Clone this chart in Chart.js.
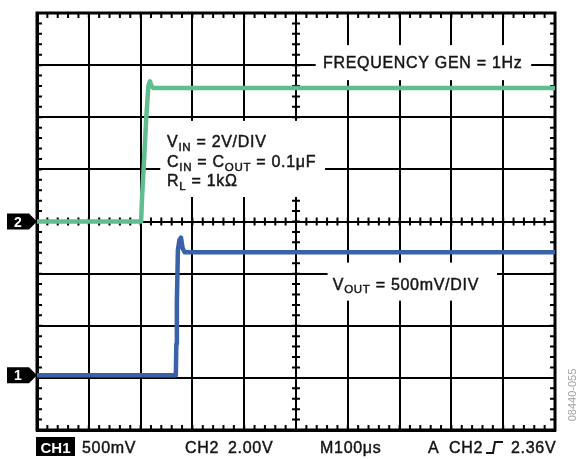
<!DOCTYPE html>
<html>
<head>
<meta charset="utf-8">
<script src="https://cdn.jsdelivr.net/npm/chart.js@4.4.1/dist/chart.umd.min.js"></script>
<style>
  html, body { margin: 0; padding: 0; background: #fff; }
  #wrap { width: 579px; height: 459px; position: relative; }
</style>
</head>
<body>
<div id="wrap"><canvas id="scope"></canvas></div>
<script>
// time in µs, 100µs/div over 10 divisions
const ch2Time  = [0, 201, 203, 206, 211, 215, 218, 221, 225, 1000];
const ch2Volts = [0, 0, 1.0, 2.1, 4.0, 5.2, 5.38, 5.2, 5.12, 5.12];
const ch1Time  = [0, 268, 269, 270, 272, 275, 278, 281, 285, 1000];
const ch1Volts = [0, 0, 0.3, 0.7, 1.2, 1.3, 1.32, 1.22, 1.18, 1.18];

// channel settings
const ch1VoltsPerDiv = 0.5;
const ch2VoltsPerDiv = 2.0;
const ch1Offset = -2.95;   // ground marker, divisions from centre
const ch2Offset = 0;

// readout along the bottom
const ch1Readout = ['CH1', '500mV'];
const ch2Readout = ['CH2', '2.00V'];
const timeReadout = 'M100μs';
const trigReadout = ['A', 'CH2', '2.36V'];
const figCode = '08440-055';

const GREEN = '#5fbd8f';
const BLUE = '#3a62a9';
const INK = '#151515';
const FONT = '"Liberation Sans", Arial, sans-serif';

const toDiv = (volts, vpd, off) => volts.map(v => off + v / vpd);

// fill plus a hairline stroke so the lettering reads a little heavier
function inkText(ctx, t, x, y) {
    ctx.fillText(t, x, y);
    ctx.strokeText(t, x, y);
}

function richText(ctx, x, y, parts, size) {
    for (const p of parts) {
        const s = p.sub ? size * 0.72 : size;
        ctx.font = s + 'px ' + FONT;
        inkText(ctx, p.t, x, y + (p.sub ? 3.5 : 0));
        x += ctx.measureText(p.t).width;
    }
}

const scopeDecor = {
    id: 'scopeDecor',
    beforeDatasetsDraw(chart) {
        const { ctx, chartArea: a, scales: { x, y } } = chart;
        const px = v => x.getPixelForValue(v);
        const py = v => y.getPixelForValue(v);
        ctx.save();
        ctx.strokeStyle = '#000';
        ctx.lineWidth = 2;
        ctx.beginPath();
        // minor ticks, 5 per division
        for (let t = 0; t <= 1000; t += 20) {
            const X = px(t);
            ctx.moveTo(X, a.top); ctx.lineTo(X, a.top + 5);
            ctx.moveTo(X, a.bottom); ctx.lineTo(X, a.bottom - 5);
            ctx.moveTo(X, py(0) - 4); ctx.lineTo(X, py(0) + 4);
        }
        for (let d = -4; d <= 4.001; d += 0.2) {
            const Y = py(d);
            ctx.moveTo(a.left, Y); ctx.lineTo(a.left + 5, Y);
            ctx.moveTo(a.right, Y); ctx.lineTo(a.right - 5, Y);
            ctx.moveTo(px(500) - 4, Y); ctx.lineTo(px(500) + 4, Y);
        }
        ctx.stroke();

        // label backgrounds knock out the graticule
        ctx.fillStyle = '#fff';
        ctx.fillRect(px(538), py(3) - 20, px(954) - px(538), 35);
        ctx.fillRect(px(238), py(1.93), px(556) - px(238), py(0.47) - py(1.93));
        ctx.fillRect(px(561), py(-1) - 11, px(888) - px(561), 38);

        ctx.lineWidth = 3;
        ctx.strokeRect(a.left, a.top, a.right - a.left, a.bottom - a.top);
        ctx.restore();
    },
    afterDatasetsDraw(chart) {
        const { ctx, chartArea: a, scales: { x, y } } = chart;
        const px = v => x.getPixelForValue(v);
        const py = v => y.getPixelForValue(v);
        ctx.save();
        ctx.fillStyle = INK;
        ctx.strokeStyle = INK;
        ctx.lineWidth = 0.45;
        ctx.textBaseline = 'alphabetic';
        ctx.letterSpacing = '0.7px';

        richText(ctx, px(552), py(3) + 3, [{ t: 'FREQUENCY GEN = 1Hz' }], 16);
        const y1 = py(1);
        richText(ctx, px(251), y1 - 22, [{ t: 'V' }, { t: 'IN', sub: true }, { t: ' = 2V/DIV' }], 16);
        richText(ctx, px(251), y1 - 2, [{ t: 'C' }, { t: 'IN', sub: true }, { t: ' = C' }, { t: 'OUT', sub: true }, { t: ' = 0.1μF' }], 16);
        richText(ctx, px(251), y1 + 17, [{ t: 'R' }, { t: 'L', sub: true }, { t: ' = 1kΩ' }], 16);
        richText(ctx, px(571), py(-1) + 16, [{ t: 'V' }, { t: 'OUT', sub: true }, { t: ' = 500mV/DIV' }], 16);

        // channel ground markers
        [[ch2Offset, '2'], [ch1Offset, '1']].forEach(([off, lbl]) => {
            const Y = py(off);
            ctx.fillStyle = '#000';
            ctx.beginPath();
            ctx.moveTo(7, Y - 8); ctx.lineTo(29, Y - 8); ctx.lineTo(a.left, Y);
            ctx.lineTo(29, Y + 8); ctx.lineTo(7, Y + 8); ctx.closePath();
            ctx.fill();
            ctx.fillStyle = '#fff';
            ctx.font = 'bold 14px ' + FONT;
            ctx.letterSpacing = '0px';
            ctx.textAlign = 'center';
            ctx.fillText(lbl, 18, Y + 5);
            ctx.textAlign = 'left';
        });

        // bottom readout
        const by = 453;
        ctx.fillStyle = '#000';
        ctx.fillRect(36, 437, 39, 19);
        ctx.fillStyle = '#fff';
        ctx.font = 'bold 15px ' + FONT;
        ctx.textAlign = 'center';
        ctx.fillText(ch1Readout[0], 55.5, by);
        ctx.textAlign = 'left';
        ctx.fillStyle = INK;
        ctx.letterSpacing = '0.7px';
        ctx.font = '16px ' + FONT;
        inkText(ctx, ch1Readout[1], 82, by);
        inkText(ctx, ch2Readout[0], 185, by);
        inkText(ctx, ch2Readout[1], 228, by);
        inkText(ctx, timeReadout, 320, by);
        inkText(ctx, trigReadout[0], 428, by);
        inkText(ctx, trigReadout[1], 449, by);
        inkText(ctx, trigReadout[2], 511, by);

        // rising-edge trigger glyph
        ctx.lineWidth = 2;
        ctx.beginPath();
        ctx.moveTo(486, by); ctx.lineTo(493, by);
        ctx.lineTo(495, by - 11); ctx.lineTo(503, by - 11);
        ctx.stroke();

        // figure code, rotated
        ctx.save();
        ctx.translate(576, 395);
        ctx.rotate(-Math.PI / 2);
        ctx.fillStyle = '#a3a3a3';
        ctx.font = '11px ' + FONT;
        ctx.letterSpacing = '0px';
        ctx.textAlign = 'center';
        ctx.fillText(figCode, 0, 0);
        ctx.restore();
        ctx.restore();
    }
};

const gridOpts = { color: '#000', lineWidth: 2, drawTicks: false };
const borderOpts = { display: true, color: '#000', width: 3 };

new Chart(document.getElementById('scope').getContext('2d'), {
    type: 'line',
    data: {
        datasets: [
            {
                label: 'CH2',
                data: ch2Time.map((t, i) => ({ x: t, y: toDiv(ch2Volts, ch2VoltsPerDiv, ch2Offset)[i] })),
                borderColor: GREEN,
                borderWidth: 4.5
            },
            {
                label: 'CH1',
                data: ch1Time.map((t, i) => ({ x: t, y: toDiv(ch1Volts, ch1VoltsPerDiv, ch1Offset)[i] })),
                borderColor: BLUE,
                borderWidth: 4.5
            }
        ]
    },
    options: {
        responsive: true,
        maintainAspectRatio: false,
        animation: false,
        layout: { padding: { left: 37, right: 24, top: 13, bottom: 29 } },
        elements: { point: { radius: 0 }, line: { tension: 0, borderJoinStyle: 'round' } },
        plugins: { legend: { display: false }, tooltip: { enabled: false } },
        scales: {
            x: {
                type: 'linear', min: 0, max: 1000,
                ticks: { display: false, stepSize: 100 },
                grid: gridOpts, border: borderOpts
            },
            y: {
                type: 'linear', min: -4, max: 4,
                ticks: { display: false, stepSize: 1 },
                grid: gridOpts, border: borderOpts
            }
        }
    },
    plugins: [scopeDecor]
});
</script>
</body>
</html>
